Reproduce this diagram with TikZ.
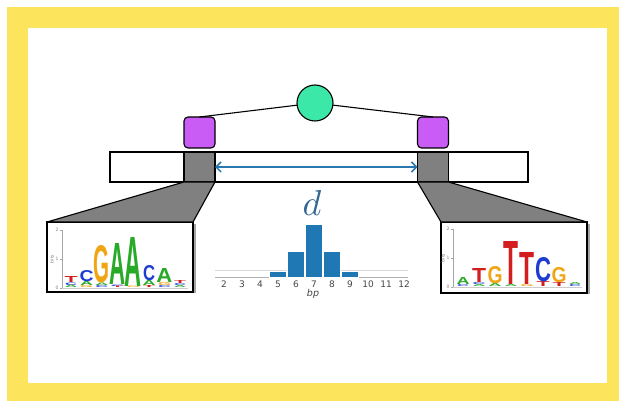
\documentclass[tikz,border=0pt]{standalone}
\usepackage{fontspec}
\setsansfont{DejaVu Sans}
\newfontfamily\logofont{Liberation Sans}
\usetikzlibrary{arrows.meta}
\definecolor{yframe}{RGB}{252,228,92}
\definecolor{tfgreen}{RGB}{60,232,168}
\definecolor{purp}{RGB}{200,92,244}
\definecolor{boxgray}{RGB}{128,128,128}
\definecolor{arrowblue}{RGB}{40,120,175}
\definecolor{barblue}{RGB}{31,119,180}
\definecolor{dblue}{RGB}{52,102,150}
\definecolor{ticktext}{RGB}{70,70,70}
\definecolor{cA}{RGB}{40,170,40}
\definecolor{cC}{RGB}{30,60,210}
\definecolor{cG}{RGB}{240,165,20}
\definecolor{cT}{RGB}{210,30,30}
\newcounter{lettr}
\newcommand\seqlet[6]{% x, bottom, height, width, color, letter
  \stepcounter{lettr}%
  \node[anchor=south,inner sep=0pt,outer sep=0pt,text=#5] (let\arabic{lettr}) at (#1,#2) {\resizebox{#4pt}{#3pt}{\logofont\bfseries #6}};}
\newcommand\logoaxis[5]{% name, x, y2, y1, y0
  \draw[gray!70,line width=0.5pt] (#2,#3) -- (#2,#5);
  \foreach \yy in {#3,#4,#5} \draw[gray!70,line width=0.5pt] (#2,\yy) -- ++(-2,0);
  \node[axlab] (#1a2) at (#2-5,#3) {2};
  \node[axlab] (#1a1) at (#2-5,#4) {1};
  \node[axlab] (#1a0) at (#2-5,#5) {0};
  \node[axlab,rotate=90] (#1bits) at (#2-10,#4) {bits};}
\begin{document}
\begin{tikzpicture}[x=1pt,y=-1pt,
  blk/.style={draw=black,line width=1.1pt},
  gbox/.style={blk,fill=boxgray,minimum width=31pt,minimum height=30pt,inner sep=0pt,outer sep=0pt},
  pbox/.style={blk,fill=purp,rounded corners=4pt,minimum width=31pt,minimum height=31pt,inner sep=0pt,outer sep=0pt},
  logobox/.style={draw=black,line width=1.6pt,fill=white,minimum width=146pt,minimum height=70pt,inner sep=0pt,outer sep=0pt},
  axlab/.style={inner sep=0pt,font=\sffamily\fontsize{4.5}{5}\selectfont,text=gray},
  tick/.style={inner sep=0pt,font=\sffamily\fontsize{9}{10}\selectfont,text=ticktext},
  bar/.style={fill=barblue,draw=white,line width=0.6pt}]
\useasboundingbox (0,0) rectangle (622,406);
\fill[white] (0,0) rectangle (622,406);
\fill[yframe] (7,7) rectangle (619,401);
\fill[white] (28,28) rectangle (607,383);
% DNA bar
\node[blk,fill=white,minimum width=418pt,minimum height=30pt,inner sep=0pt,outer sep=0pt] (dna) at (319,167) {};
\node[gbox] (gl) at (199.5,167) {};
\node[gbox] (gr) at (433,167) {};
\node[pbox] (pl) at (199.5,132.5) {};
\node[pbox] (pr) at (433,132.5) {};
\node[circle,blk,fill=tfgreen,minimum size=36pt,inner sep=0pt,outer sep=0pt] (tf) at (315,103) {};
\draw[blk] (tf) -- (pl.north);
\draw[blk] (tf) -- (pr.north);
\draw[arrowblue,line width=1.5pt,{Straight Barb[length=5pt,width=10pt]}-{Straight Barb[length=5pt,width=10pt]}] (gl.east) -- (gr.west);
% logo boxes
\fill[black!35] (194,224) rectangle (195.5,293.5);
\fill[black!35] (588,224) rectangle (589.5,294.5);
\node[logobox] (lgl) at (120,257) {};
\node[logobox,minimum height=71pt] (lgr) at (514,257.5) {};
\filldraw[fill=boxgray,blk,line join=round] (gl.south west) -- (gl.south east) -- (lgl.north east) -- (lgl.north west) -- cycle;
\filldraw[fill=boxgray,blk,line join=round] (gr.south west) -- (gr.south east) -- (lgr.north east) -- (lgr.north west) -- cycle;
% left logo
\logoaxis{L}{62}{230}{259}{288}
\draw[gray!40,line width=0.4pt] (62,288) -- (188,288);
\seqlet{71}{288}{2.5}{12}{cA}{A}
\seqlet{71}{285.5}{2.5}{12}{cC}{C}
\seqlet{71}{283}{6}{13}{cT}{T}
\seqlet{86.5}{288}{2}{13}{cG}{G}
\seqlet{86.5}{286}{4}{13}{cA}{A}
\seqlet{86.5}{282}{11}{14}{cC}{C}
\seqlet{102}{288}{2}{13}{cC}{C}
\seqlet{102}{286}{2.5}{13}{cA}{A}
\seqlet{102}{283.5}{37}{16}{cG}{G}
\seqlet{117.5}{288}{1.5}{13}{cT}{T}
\seqlet{117.5}{286.5}{1.5}{13}{cC}{C}
\seqlet{117.5}{285}{41}{16}{cA}{A}
\seqlet{133.5}{288}{1.5}{13}{cG}{G}
\seqlet{133.5}{286.5}{49}{17}{cA}{A}
\seqlet{149}{288}{2}{13}{cT}{T}
\seqlet{149}{286}{5}{13}{cA}{A}
\seqlet{149}{281}{15}{12}{cC}{C}
\seqlet{164.5}{288}{2}{13}{cC}{C}
\seqlet{164.5}{286}{3}{13}{cG}{G}
\seqlet{164.5}{283}{14}{16}{cA}{A}
\seqlet{180}{288}{2}{12}{cA}{A}
\seqlet{180}{286}{2}{12}{cC}{C}
\seqlet{180}{284}{3}{12}{cT}{T}
% right logo
\logoaxis{R}{453}{229}{258}{287}
\draw[gray!40,line width=0.4pt] (453,287) -- (582,287);
\seqlet{463}{287}{2}{12}{cC}{C}
\seqlet{463}{285}{7}{13}{cA}{A}
\seqlet{479}{287}{2}{13}{cA}{A}
\seqlet{479}{285}{2}{13}{cC}{C}
\seqlet{479}{283}{14}{14}{cT}{T}
\seqlet{495}{287}{3}{13}{cA}{A}
\seqlet{495}{284}{17}{15}{cG}{G}
\seqlet{511}{287}{2}{13}{cA}{A}
\seqlet{511}{285}{43}{15}{cT}{T}
\seqlet{527}{287}{2}{13}{cG}{G}
\seqlet{527}{285}{32}{15}{cT}{T}
\seqlet{543}{287}{5}{13}{cT}{T}
\seqlet{543}{282}{24}{16}{cC}{C}
\seqlet{559}{287}{4}{13}{cT}{T}
\seqlet{559}{283}{15}{15}{cG}{G}
\seqlet{575}{287}{2}{12}{cC}{C}
\seqlet{575}{285}{2}{12}{cA}{A}
% histogram
\draw[gray!30,line width=0.5pt] (215,270) -- (408,270);
\draw[gray!60,line width=0.6pt] (215,277.5) -- (408,277.5);
\foreach \n/\tp in {5/271,6/251,7/224,8/251,9/271}
  \draw[bar] ({224+18*(\n-2)-8.5},277.5) rectangle ({224+18*(\n-2)+8.5},\tp);
\foreach \n in {2,...,12}
  \node[tick] (t\n) at ({224+18*(\n-2)},284) {\n};
\node[text=dblue,inner sep=0pt,anchor=south] (dlab) at (312,216) {\resizebox{!}{25pt}{$d$}};
\node[inner sep=0pt,text=ticktext,font=\sffamily\itshape\fontsize{9.5}{10}\selectfont] (bp) at (313,294) {bp};
\end{tikzpicture}
\end{document}
